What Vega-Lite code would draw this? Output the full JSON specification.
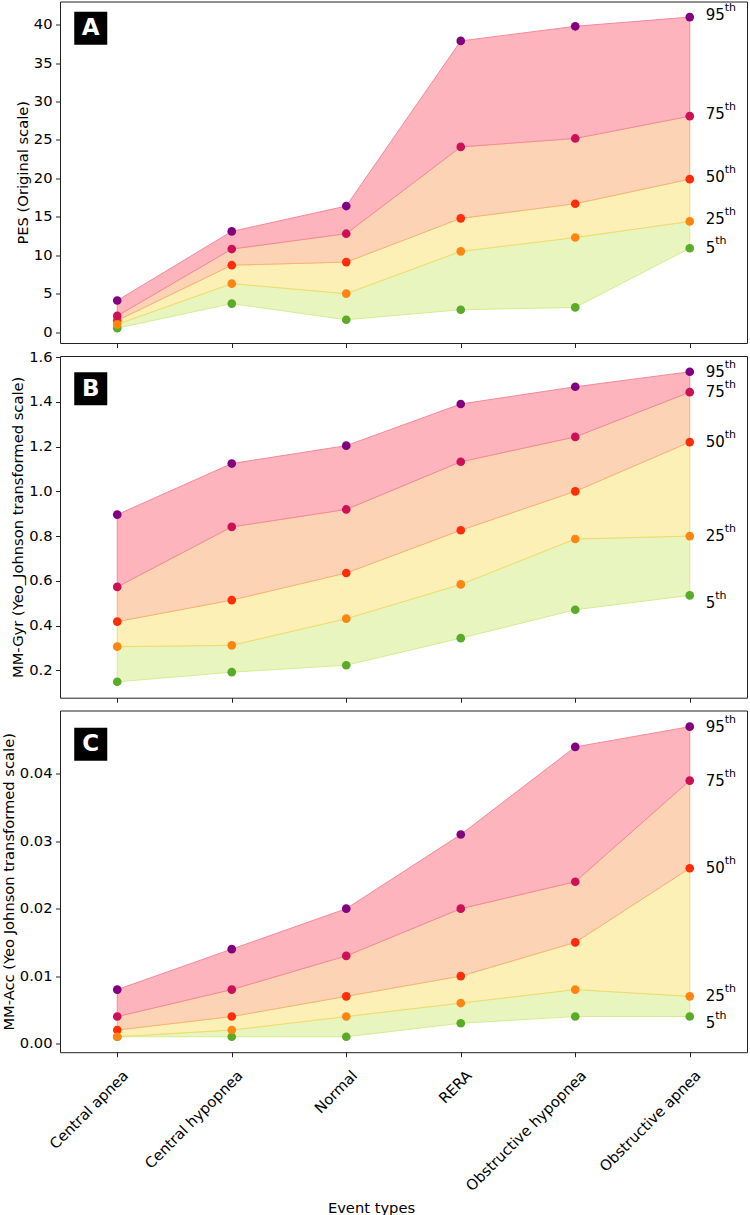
{
  "$schema": "https://vega.github.io/schema/vega-lite/v6.json",
  "padding": {"left": 0, "top": 0.5, "right": 0, "bottom": 0},
  "bounds": "flush",
  "spacing": 12.5,
  "config": {
    "font": "DejaVu Sans",
    "view": {"stroke": "#222", "strokeWidth": 1},
    "axis": {
      "grid": false, "domain": false, "tickColor": "#222", "tickSize": 4.5, "tickWidth": 1,
      "labelFontSize": 14.7, "titleFontSize": 14.7, "titleFontWeight": "normal",
      "labelColor": "#000", "titleColor": "#000", "labelPadding": 3.5, "titlePadding": 3
    }
  },
  "datasets": {
    "pes": [
      {"event": "Central apnea", "95": 4.1, "75": 2.1, "50": 1.5, "25": 1.0, "5": 0.5},
      {"event": "Central hypopnea", "95": 13.1, "75": 10.8, "50": 8.7, "25": 6.3, "5": 3.7},
      {"event": "Normal", "95": 16.4, "75": 12.8, "50": 9.1, "25": 5.0, "5": 1.6},
      {"event": "RERA", "95": 37.9, "75": 24.1, "50": 14.8, "25": 10.5, "5": 2.9},
      {"event": "Obstructive hypopnea", "95": 39.8, "75": 25.2, "50": 16.7, "25": 12.3, "5": 3.2},
      {"event": "Obstructive apnea", "95": 41.0, "75": 28.1, "50": 19.9, "25": 14.4, "5": 10.9}
    ],
    "gyr": [
      {"event": "Central apnea", "95": 0.896, "75": 0.573, "50": 0.418, "25": 0.306, "5": 0.149},
      {"event": "Central hypopnea", "95": 1.124, "75": 0.841, "50": 0.514, "25": 0.312, "5": 0.192},
      {"event": "Normal", "95": 1.204, "75": 0.919, "50": 0.635, "25": 0.431, "5": 0.223},
      {"event": "RERA", "95": 1.390, "75": 1.132, "50": 0.826, "25": 0.584, "5": 0.344},
      {"event": "Obstructive hypopnea", "95": 1.467, "75": 1.243, "50": 1.000, "25": 0.787, "5": 0.471},
      {"event": "Obstructive apnea", "95": 1.534, "75": 1.443, "50": 1.220, "25": 0.800, "5": 0.535}
    ],
    "acc": [
      {"event": "Central apnea", "95": 0.008, "75": 0.004, "50": 0.002, "25": 0.001, "5": 0.001},
      {"event": "Central hypopnea", "95": 0.014, "75": 0.008, "50": 0.004, "25": 0.002, "5": 0.001},
      {"event": "Normal", "95": 0.020, "75": 0.013, "50": 0.007, "25": 0.004, "5": 0.001},
      {"event": "RERA", "95": 0.031, "75": 0.020, "50": 0.010, "25": 0.006, "5": 0.003},
      {"event": "Obstructive hypopnea", "95": 0.044, "75": 0.024, "50": 0.015, "25": 0.008, "5": 0.004},
      {"event": "Obstructive apnea", "95": 0.047, "75": 0.039, "50": 0.026, "25": 0.007, "5": 0.004}
    ]
  },
  "vconcat": [
    {
      "width": 687, "height": 341.5,
      "data": {"name": "pes"},
      "encoding": {
        "x": {"field": "event", "type": "nominal", "sort": null,
          "scale": {"type": "point", "padding": 0.5, "domain": ["Central apnea", "Central hypopnea", "Normal", "RERA", "Obstructive hypopnea", "Obstructive apnea"]},
          "axis": {"labels": false, "title": null}}
      },
      "layer": [
        {"mark": {"type": "area", "fill": "#e8f5bf", "stroke": "#d5ec92", "strokeWidth": 1},
         "encoding": {"y": {"field": "5", "type": "quantitative", "scale": {"domain": [-1.43, 43.03], "nice": false, "zero": false}, "axis": {"title": "PES (Original scale)", "values": [0, 5, 10, 15, 20, 25, 30, 35, 40], "format": "d"}}, "y2": {"field": "25"}}},
        {"mark": {"type": "area", "fill": "#fdf0b7", "stroke": "#f3da6a", "strokeWidth": 1},
         "encoding": {"y": {"field": "25", "type": "quantitative", "scale": {"domain": [-1.43, 43.03], "nice": false, "zero": false}, "axis": {"title": "PES (Original scale)", "values": [0, 5, 10, 15, 20, 25, 30, 35, 40], "format": "d"}}, "y2": {"field": "50"}}},
        {"mark": {"type": "area", "fill": "#fdd3b6", "stroke": "#f9b07c", "strokeWidth": 1},
         "encoding": {"y": {"field": "50", "type": "quantitative", "scale": {"domain": [-1.43, 43.03], "nice": false, "zero": false}, "axis": {"title": "PES (Original scale)", "values": [0, 5, 10, 15, 20, 25, 30, 35, 40], "format": "d"}}, "y2": {"field": "75"}}},
        {"mark": {"type": "area", "fill": "#feb4bd", "stroke": "#f5899a", "strokeWidth": 1},
         "encoding": {"y": {"field": "75", "type": "quantitative", "scale": {"domain": [-1.43, 43.03], "nice": false, "zero": false}, "axis": {"title": "PES (Original scale)", "values": [0, 5, 10, 15, 20, 25, 30, 35, 40], "format": "d"}}, "y2": {"field": "95"}}},
        {"transform": [{"fold": ["5", "50", "25", "75", "95"], "as": ["pct", "value"]}],
         "mark": {"type": "circle", "size": 75, "opacity": 1},
         "encoding": {"y": {"field": "value", "type": "quantitative", "scale": {"domain": [-1.43, 43.03], "nice": false, "zero": false}, "axis": {"title": "PES (Original scale)", "values": [0, 5, 10, 15, 20, 25, 30, 35, 40], "format": "d"}},
           "color": {"field": "pct", "type": "nominal", "scale": {"domain": ["95", "75", "50", "25", "5"], "range": ["#800080", "#cc1157", "#ff2d0a", "#ff8512", "#5aab27"]}, "legend": null}}},
        {"transform": [{"filter": {"field": "event", "equal": "Obstructive apnea"}}, {"fold": ["95", "75", "50", "25"], "as": ["pct", "value"]}],
         "mark": {"type": "text", "align": "left", "baseline": "middle", "dx": 16, "dy": -2, "fontSize": 15, "color": "#000"},
         "encoding": {"y": {"field": "value", "type": "quantitative"}, "text": {"field": "pct"}}},
        {"transform": [{"filter": {"field": "event", "equal": "Obstructive apnea"}}, {"fold": ["95", "75", "50", "25"], "as": ["pct", "value"]}],
         "mark": {"type": "text", "align": "left", "baseline": "middle", "dx": 35, "dy": -9, "fontSize": 11, "color": "#000"},
         "encoding": {"y": {"field": "value", "type": "quantitative"}, "text": {"value": "th"}}},
        {"transform": [{"filter": {"field": "event", "equal": "Obstructive apnea"}}, {"fold": ["5"], "as": ["pct", "value"]}],
         "mark": {"type": "text", "align": "left", "baseline": "middle", "dx": 16, "dy": 0, "fontSize": 15, "color": "#000"},
         "encoding": {"y": {"field": "value", "type": "quantitative"}, "text": {"field": "pct"}}},
        {"transform": [{"filter": {"field": "event", "equal": "Obstructive apnea"}}, {"fold": ["5"], "as": ["pct", "value"]}],
         "mark": {"type": "text", "align": "left", "baseline": "middle", "dx": 25.5, "dy": -7, "fontSize": 11, "color": "#000"},
         "encoding": {"y": {"field": "value", "type": "quantitative"}, "text": {"value": "th"}}},
        {"data": {"values": [{"panel": "A"}]},
         "mark": {"type": "point", "shape": "square", "filled": true, "size": 1089, "color": "#000", "opacity": 1, "xOffset": -26.5},
         "encoding": {"x": {"datum": "Central apnea", "type": "nominal"}, "y": {"datum": 39.56, "type": "quantitative"}}},
        {"data": {"values": [{"panel": "A"}]},
         "mark": {"type": "text", "dx": -26.5, "align": "center", "baseline": "middle", "fontSize": 23, "fontWeight": "bold", "color": "#fff"},
         "encoding": {"x": {"datum": "Central apnea", "type": "nominal"}, "y": {"datum": 39.56, "type": "quantitative"}, "text": {"field": "panel"}}}
      ]
    },
    {
      "width": 687, "height": 341.7,
      "data": {"name": "gyr"},
      "encoding": {
        "x": {"field": "event", "type": "nominal", "sort": null,
          "scale": {"type": "point", "padding": 0.5, "domain": ["Central apnea", "Central hypopnea", "Normal", "RERA", "Obstructive hypopnea", "Obstructive apnea"]},
          "axis": {"labels": false, "title": null}}
      },
      "layer": [
        {"mark": {"type": "area", "fill": "#e8f5bf", "stroke": "#d5ec92", "strokeWidth": 1},
         "encoding": {"y": {"field": "5", "type": "quantitative", "scale": {"domain": [0.078, 1.6045], "nice": false, "zero": false}, "axis": {"title": "MM-Gyr (Yeo_Johnson transformed scale)", "values": [0.2, 0.4, 0.6, 0.8, 1.0, 1.2, 1.4, 1.6], "format": ".1f"}}, "y2": {"field": "25"}}},
        {"mark": {"type": "area", "fill": "#fdf0b7", "stroke": "#f3da6a", "strokeWidth": 1},
         "encoding": {"y": {"field": "25", "type": "quantitative", "scale": {"domain": [0.078, 1.6045], "nice": false, "zero": false}, "axis": {"title": "MM-Gyr (Yeo_Johnson transformed scale)", "values": [0.2, 0.4, 0.6, 0.8, 1.0, 1.2, 1.4, 1.6], "format": ".1f"}}, "y2": {"field": "50"}}},
        {"mark": {"type": "area", "fill": "#fdd3b6", "stroke": "#f9b07c", "strokeWidth": 1},
         "encoding": {"y": {"field": "50", "type": "quantitative", "scale": {"domain": [0.078, 1.6045], "nice": false, "zero": false}, "axis": {"title": "MM-Gyr (Yeo_Johnson transformed scale)", "values": [0.2, 0.4, 0.6, 0.8, 1.0, 1.2, 1.4, 1.6], "format": ".1f"}}, "y2": {"field": "75"}}},
        {"mark": {"type": "area", "fill": "#feb4bd", "stroke": "#f5899a", "strokeWidth": 1},
         "encoding": {"y": {"field": "75", "type": "quantitative", "scale": {"domain": [0.078, 1.6045], "nice": false, "zero": false}, "axis": {"title": "MM-Gyr (Yeo_Johnson transformed scale)", "values": [0.2, 0.4, 0.6, 0.8, 1.0, 1.2, 1.4, 1.6], "format": ".1f"}}, "y2": {"field": "95"}}},
        {"transform": [{"fold": ["5", "50", "25", "75", "95"], "as": ["pct", "value"]}],
         "mark": {"type": "circle", "size": 75, "opacity": 1},
         "encoding": {"y": {"field": "value", "type": "quantitative", "scale": {"domain": [0.078, 1.6045], "nice": false, "zero": false}, "axis": {"title": "MM-Gyr (Yeo_Johnson transformed scale)", "values": [0.2, 0.4, 0.6, 0.8, 1.0, 1.2, 1.4, 1.6], "format": ".1f"}},
           "color": {"field": "pct", "type": "nominal", "scale": {"domain": ["95", "75", "50", "25", "5"], "range": ["#800080", "#cc1157", "#ff2d0a", "#ff8512", "#5aab27"]}, "legend": null}}},
        {"transform": [{"filter": {"field": "event", "equal": "Obstructive apnea"}}, {"fold": ["95", "75", "50", "25"], "as": ["pct", "value"]}],
         "mark": {"type": "text", "align": "left", "baseline": "middle", "dx": 16, "dy": 0, "fontSize": 15, "color": "#000"},
         "encoding": {"y": {"field": "value", "type": "quantitative"}, "text": {"field": "pct"}}},
        {"transform": [{"filter": {"field": "event", "equal": "Obstructive apnea"}}, {"fold": ["95", "75", "50", "25"], "as": ["pct", "value"]}],
         "mark": {"type": "text", "align": "left", "baseline": "middle", "dx": 35, "dy": -7, "fontSize": 11, "color": "#000"},
         "encoding": {"y": {"field": "value", "type": "quantitative"}, "text": {"value": "th"}}},
        {"transform": [{"filter": {"field": "event", "equal": "Obstructive apnea"}}, {"fold": ["5"], "as": ["pct", "value"]}],
         "mark": {"type": "text", "align": "left", "baseline": "middle", "dx": 16, "dy": 8, "fontSize": 15, "color": "#000"},
         "encoding": {"y": {"field": "value", "type": "quantitative"}, "text": {"field": "pct"}}},
        {"transform": [{"filter": {"field": "event", "equal": "Obstructive apnea"}}, {"fold": ["5"], "as": ["pct", "value"]}],
         "mark": {"type": "text", "align": "left", "baseline": "middle", "dx": 25.5, "dy": 1, "fontSize": 11, "color": "#000"},
         "encoding": {"y": {"field": "value", "type": "quantitative"}, "text": {"value": "th"}}},
        {"data": {"values": [{"panel": "B"}]},
         "mark": {"type": "point", "shape": "square", "filled": true, "size": 1089, "color": "#000", "opacity": 1, "xOffset": -26.5},
         "encoding": {"x": {"datum": "Central apnea", "type": "nominal"}, "y": {"datum": 1.458, "type": "quantitative"}}},
        {"data": {"values": [{"panel": "B"}]},
         "mark": {"type": "text", "dx": -26.5, "align": "center", "baseline": "middle", "fontSize": 23, "fontWeight": "bold", "color": "#fff"},
         "encoding": {"x": {"datum": "Central apnea", "type": "nominal"}, "y": {"datum": 1.458, "type": "quantitative"}, "text": {"field": "panel"}}}
      ]
    },
    {
      "width": 687, "height": 341.7,
      "data": {"name": "acc"},
      "encoding": {
        "x": {"field": "event", "type": "nominal", "sort": null,
          "scale": {"type": "point", "padding": 0.5, "domain": ["Central apnea", "Central hypopnea", "Normal", "RERA", "Obstructive hypopnea", "Obstructive apnea"]},
          "axis": {"title": "Event types", "labelAngle": -45, "labelAlign": "right", "labelBaseline": "top", "labelOffset": 3, "labelPadding": 11, "titleX": 311, "titleY": 160, "titleBaseline": "alphabetic", "titleAnchor": "middle", "titleAlign": "center"}}
      },
      "layer": [
        {"mark": {"type": "area", "fill": "#e8f5bf", "stroke": "#d5ec92", "strokeWidth": 1},
         "encoding": {"y": {"field": "5", "type": "quantitative", "scale": {"domain": [-0.00129, 0.0494], "nice": false, "zero": false}, "axis": {"title": "MM-Acc (Yeo Johnson transformed scale)", "values": [0, 0.01, 0.02, 0.03, 0.04], "format": ".2f"}}, "y2": {"field": "25"}}},
        {"mark": {"type": "area", "fill": "#fdf0b7", "stroke": "#f3da6a", "strokeWidth": 1},
         "encoding": {"y": {"field": "25", "type": "quantitative", "scale": {"domain": [-0.00129, 0.0494], "nice": false, "zero": false}, "axis": {"title": "MM-Acc (Yeo Johnson transformed scale)", "values": [0, 0.01, 0.02, 0.03, 0.04], "format": ".2f"}}, "y2": {"field": "50"}}},
        {"mark": {"type": "area", "fill": "#fdd3b6", "stroke": "#f9b07c", "strokeWidth": 1},
         "encoding": {"y": {"field": "50", "type": "quantitative", "scale": {"domain": [-0.00129, 0.0494], "nice": false, "zero": false}, "axis": {"title": "MM-Acc (Yeo Johnson transformed scale)", "values": [0, 0.01, 0.02, 0.03, 0.04], "format": ".2f"}}, "y2": {"field": "75"}}},
        {"mark": {"type": "area", "fill": "#feb4bd", "stroke": "#f5899a", "strokeWidth": 1},
         "encoding": {"y": {"field": "75", "type": "quantitative", "scale": {"domain": [-0.00129, 0.0494], "nice": false, "zero": false}, "axis": {"title": "MM-Acc (Yeo Johnson transformed scale)", "values": [0, 0.01, 0.02, 0.03, 0.04], "format": ".2f"}}, "y2": {"field": "95"}}},
        {"transform": [{"fold": ["5", "50", "25", "75", "95"], "as": ["pct", "value"]}],
         "mark": {"type": "circle", "size": 75, "opacity": 1},
         "encoding": {"y": {"field": "value", "type": "quantitative", "scale": {"domain": [-0.00129, 0.0494], "nice": false, "zero": false}, "axis": {"title": "MM-Acc (Yeo Johnson transformed scale)", "values": [0, 0.01, 0.02, 0.03, 0.04], "format": ".2f"}},
           "color": {"field": "pct", "type": "nominal", "scale": {"domain": ["95", "75", "50", "25", "5"], "range": ["#800080", "#cc1157", "#ff2d0a", "#ff8512", "#5aab27"]}, "legend": null}}},
        {"transform": [{"filter": {"field": "event", "equal": "Obstructive apnea"}}, {"fold": ["95", "75", "50", "25"], "as": ["pct", "value"]}],
         "mark": {"type": "text", "align": "left", "baseline": "middle", "dx": 16, "dy": 0, "fontSize": 15, "color": "#000"},
         "encoding": {"y": {"field": "value", "type": "quantitative"}, "text": {"field": "pct"}}},
        {"transform": [{"filter": {"field": "event", "equal": "Obstructive apnea"}}, {"fold": ["95", "75", "50", "25"], "as": ["pct", "value"]}],
         "mark": {"type": "text", "align": "left", "baseline": "middle", "dx": 35, "dy": -7, "fontSize": 11, "color": "#000"},
         "encoding": {"y": {"field": "value", "type": "quantitative"}, "text": {"value": "th"}}},
        {"transform": [{"filter": {"field": "event", "equal": "Obstructive apnea"}}, {"fold": ["5"], "as": ["pct", "value"]}],
         "mark": {"type": "text", "align": "left", "baseline": "middle", "dx": 16, "dy": 6, "fontSize": 15, "color": "#000"},
         "encoding": {"y": {"field": "value", "type": "quantitative"}, "text": {"field": "pct"}}},
        {"transform": [{"filter": {"field": "event", "equal": "Obstructive apnea"}}, {"fold": ["5"], "as": ["pct", "value"]}],
         "mark": {"type": "text", "align": "left", "baseline": "middle", "dx": 25.5, "dy": -1, "fontSize": 11, "color": "#000"},
         "encoding": {"y": {"field": "value", "type": "quantitative"}, "text": {"value": "th"}}},
        {"data": {"values": [{"panel": "C"}]},
         "mark": {"type": "point", "shape": "square", "filled": true, "size": 1089, "color": "#000", "opacity": 1, "xOffset": -26.5},
         "encoding": {"x": {"datum": "Central apnea", "type": "nominal"}, "y": {"datum": 0.0444, "type": "quantitative"}}},
        {"data": {"values": [{"panel": "C"}]},
         "mark": {"type": "text", "dx": -26.5, "align": "center", "baseline": "middle", "fontSize": 23, "fontWeight": "bold", "color": "#fff"},
         "encoding": {"x": {"datum": "Central apnea", "type": "nominal"}, "y": {"datum": 0.0444, "type": "quantitative"}, "text": {"field": "panel"}}}
      ]
    }
  ]
}
